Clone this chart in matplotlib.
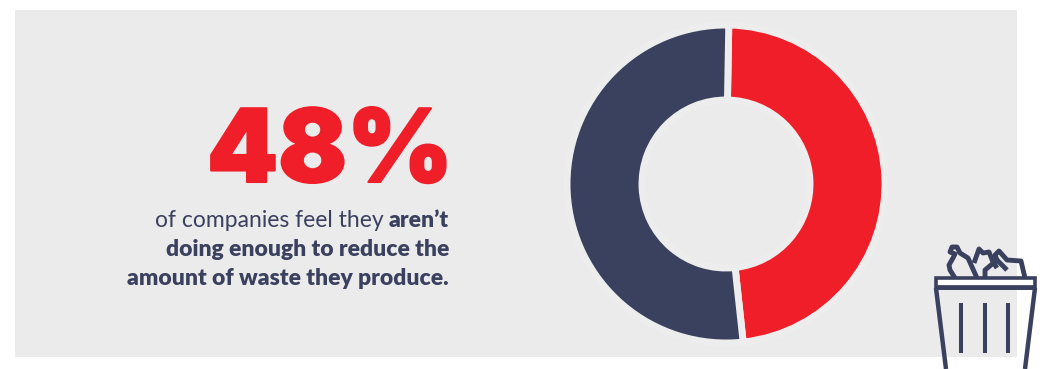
import matplotlib
matplotlib.use('Agg')
import matplotlib.pyplot as plt
import matplotlib.patheffects as pe
from matplotlib.patches import Rectangle

# donut values, percent
segments = ['feel they are not doing enough', 'rest']
shares = [48, 52]
headline = '48%'
line_regular = 'of companies feel they'
line_bold = ['aren\u2019t', 'doing enough to reduce the', 'amount of waste they produce.']

RED = '#F01E28'
NAVY = '#3A415E'
PANEL = '#EBEBEB'
W, H = 1052, 369

fig = plt.figure(figsize=(W / 100, H / 100), dpi=100)
ax = fig.add_axes([0, 0, 1, 1])
ax.set_xlim(0, W)
ax.set_ylim(0, H)
ax.axis('off')


def up(y):
    # layout below is measured from the top edge
    return H - y


ax.add_patch(Rectangle((15, up(357)), 1002, 347, color=PANEL, lw=0, zorder=0))

ax.pie(shares, colors=[RED, NAVY], startangle=89, counterclock=False,
       center=(726, up(184)), radius=159, frame=True,
       wedgeprops=dict(width=75, edgecolor='#EDEDED', linewidth=5))
ax.set_xlim(0, W)
ax.set_ylim(0, H)
ax.set_aspect('auto')
ax.axis('off')

ax.text(453, up(182), headline, color=RED, fontsize=73, fontfamily='Inter',
        fontweight=900, ha='right', va='baseline',
        path_effects=[pe.withStroke(linewidth=1.5, foreground=RED)])

# first line mixes weights, so the regular part is placed from the bold part's width
body_size = 16.5
bold_first = ax.text(449, up(227), line_bold[0], color=NAVY, fontsize=body_size,
                     fontfamily='Lato', fontweight=800, ha='right', va='baseline')
renderer = fig.canvas.get_renderer()
left = bold_first.get_window_extent(renderer).x0
ax.text(left - 5, up(227), line_regular, color=NAVY, fontsize=body_size,
        fontfamily='Lato', ha='right', va='baseline')
ax.text(449, up(256), line_bold[1], color=NAVY, fontsize=body_size, fontfamily='Lato',
        fontweight=800, ha='right', va='baseline')
ax.text(449, up(285), line_bold[2], color=NAVY, fontsize=body_size, fontfamily='Lato',
        fontweight=800, ha='right', va='baseline')


def stroke(xs, ys, lw=3.5):
    ax.plot(xs, [up(y) for y in ys], color=NAVY, lw=lw, solid_capstyle='butt',
            solid_joinstyle='round', clip_on=True, zorder=5)


# bin rim and body
ax.add_patch(Rectangle((936, up(288)), 99, 10, facecolor='white', edgecolor=NAVY,
                       lw=2.6, zorder=4))
stroke([936, 1035], [287, 287], lw=3.4)
stroke([936, 946], [288, 369], lw=3.2)
stroke([1035, 1025], [288, 369], lw=3.2)
for bar_x in [961, 985, 1008]:
    stroke([bar_x, bar_x], [303, 353], lw=2.9)

# rubbish sticking out of the bin
stroke([955, 950, 949, 953, 955, 950, 952, 957, 960, 968, 977],
       [278, 270, 265, 258, 254, 252, 247, 247, 253, 258, 278])
stroke([974, 979, 983, 989, 993, 997],
       [263, 249, 253, 252, 262, 268])
stroke([985, 985, 997, 1007],
       [278, 270, 260, 270])
stroke([997, 995, 999, 1007, 1021, 1025],
       [260, 255, 251, 260, 261, 278])

fig.savefig('out.png', dpi=100, facecolor='white')
